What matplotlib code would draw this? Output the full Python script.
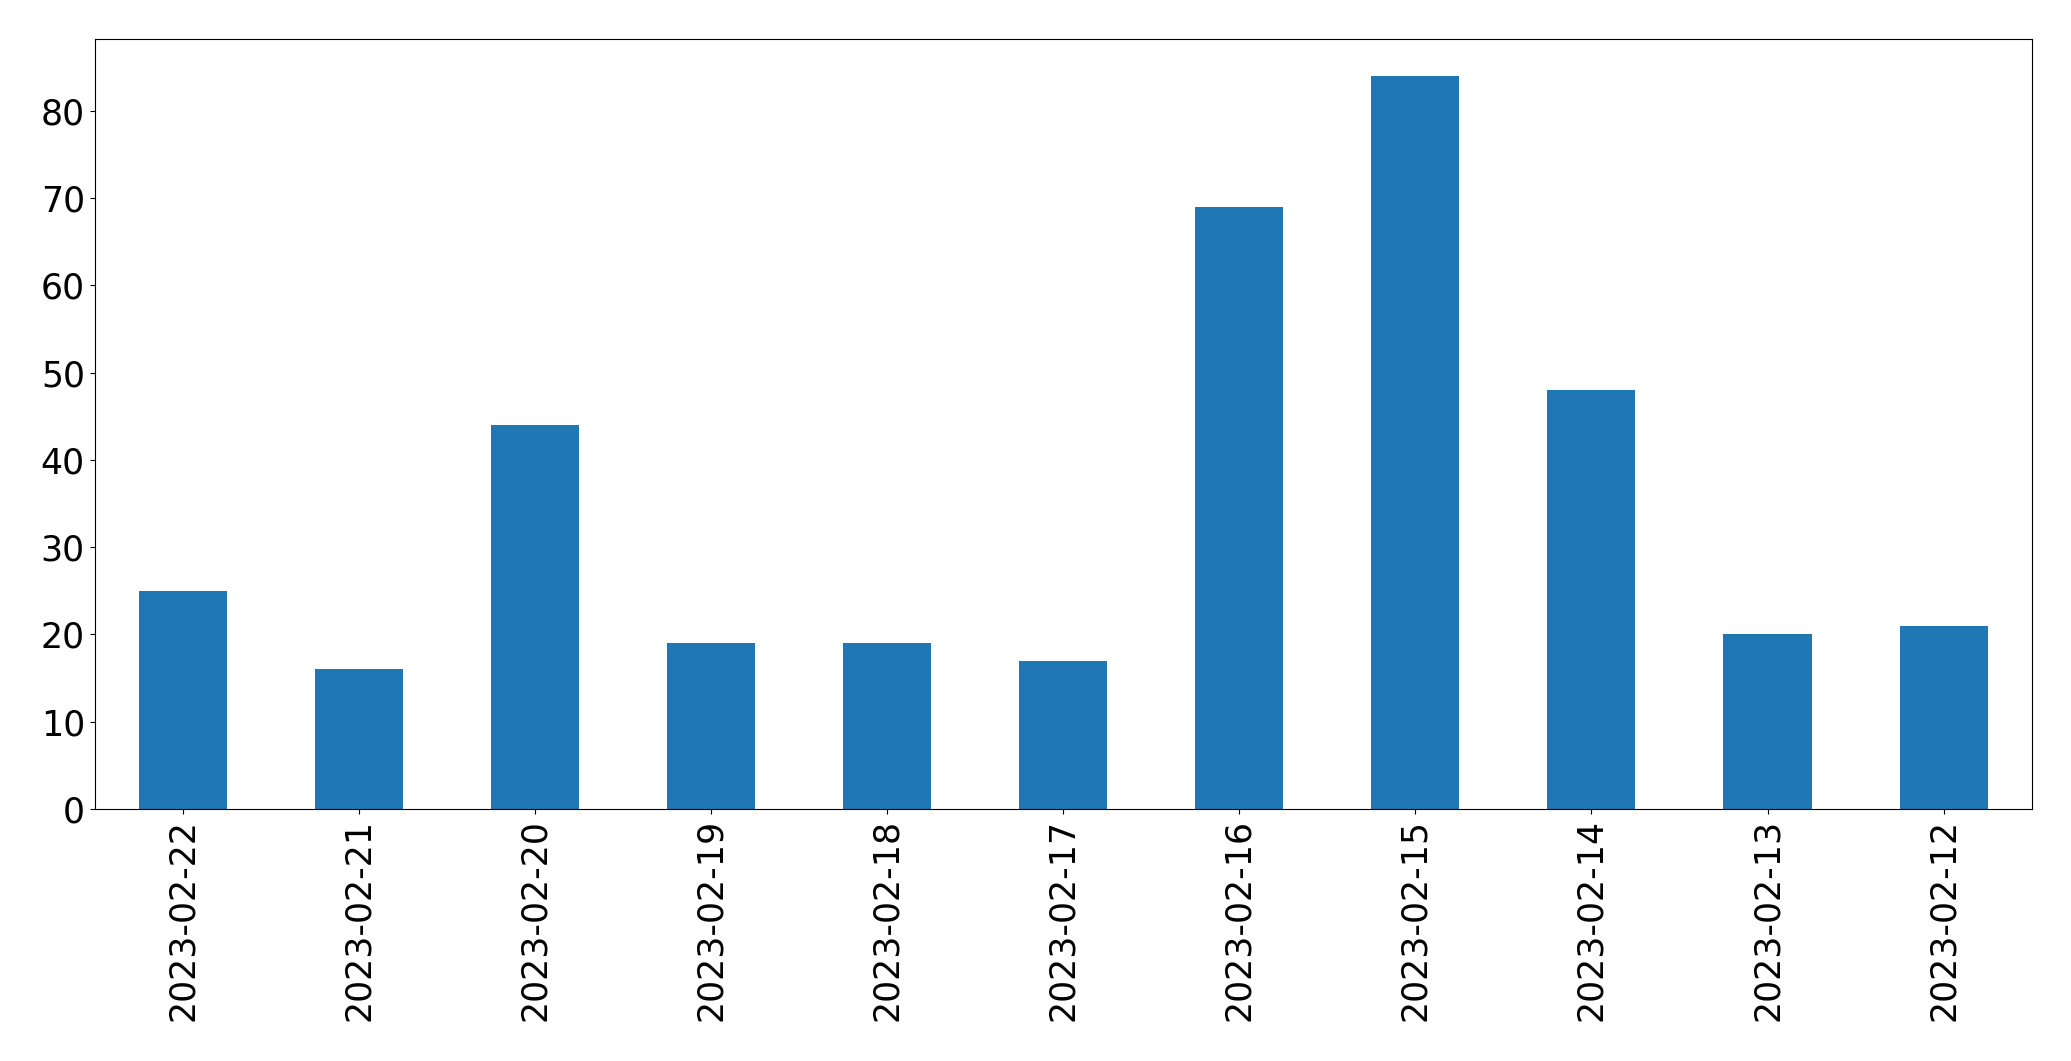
import pandas as pd
import matplotlib
matplotlib.use("Agg")
import matplotlib.pyplot as plt

# daily counts, newest first (as in the source chart)
dates = ['2023-02-22', '2023-02-21', '2023-02-20', '2023-02-19', '2023-02-18',
         '2023-02-17', '2023-02-16', '2023-02-15', '2023-02-14', '2023-02-13',
         '2023-02-12']
counts = [25, 16, 44, 19, 19, 17, 69, 84, 48, 20, 21]

s = pd.Series(counts, index=dates)

fig = plt.figure(figsize=(20.71, 10.61), dpi=100)
ax = fig.add_axes([0.0457, 0.2375, 0.9353, 0.7255])
s.plot(kind='bar', ax=ax, color='#1f77b4', fontsize=25)
ax.tick_params(axis='x', labelrotation=90)

fig.savefig('out.png', dpi=100)
